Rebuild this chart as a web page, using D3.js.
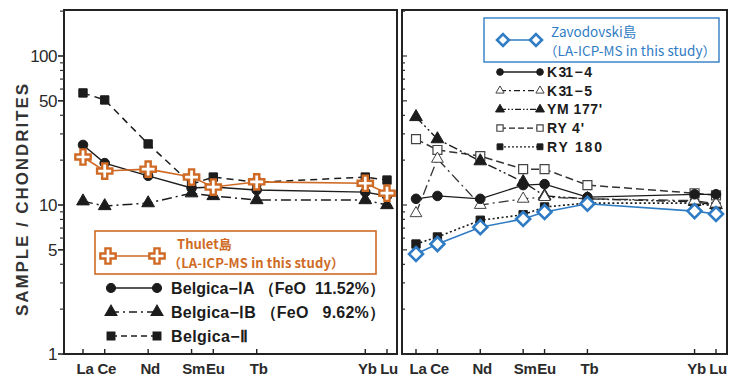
<!DOCTYPE html>
<html>
<head>
<meta charset="utf-8">
<script src="https://cdn.jsdelivr.net/npm/d3@7"></script>
<style>
  body { margin: 0; background: #fff; }
  svg { display: block; }
</style>
</head>
<body>
<svg id="chart" width="738" height="378"></svg>
<script>
//Chart data ----------
const elements = ["La", "Ce", "Nd", "Sm", "Eu", "Tb", "Yb", "Lu"];
const atomicNo = [57, 58, 60, 62, 63, 65, 70, 71];
const yTickValues = [1, 5, 10, 50, 100];

//Left panel (Thulet + Belgica)
const thulet = [21.0, 16.9, 17.4, 15.4, 13.2, 14.3, 14.0, 12.0];
const belgicaIA = [25.3, 19.1, 15.7, 13.0, 13.2, 12.6, 12.2, 11.5];
const belgicaIB = [10.6, 9.85, 10.3, 12.0, 11.5, 10.8, 10.8, 10.0];
const belgicaII = [56.5, 50.7, 25.7, 13.8, 15.4, 14.2, 15.4, 14.7];

//Right panel (Zavodovski + others)
const zavodovski = [4.69, 5.47, 7.1, 8.06, 8.97, 10.2, 9.1, 8.7];
const k31_4 = [11.0, 11.5, 11.0, 13.6, 13.8, 11.3, 11.8, 11.8];
const k31_5 = [8.8, 20.4, 10.0, 11.0, 11.3, 11.0, 10.7, 10.2];
const ym177 = [39.0, 27.7, 19.7, 14.3, 11.5, 11.0, 10.5, 10.0];
const ry4 = [27.7, 23.4, 21.3, 17.4, 17.4, 13.6, 12.0, 11.6];
const ry180 = [5.47, 6.1, 7.9, 8.6, 9.7, 10.3, 10.3, 9.8];

const leftLegend = ["Belgica−ⅠA （FeO  11.52%）", "Belgica−ⅠB （FeO   9.62%）", "Belgica−Ⅱ"];
const rightLegend = ["K 31 − 4", "K 31 − 5", "YM 177'", "RY 4'", "RY 180"];

//Styles ----------
const ORANGE = "#cf6a25";
const BLUE = "#2f7cc4";
const INK = "#1c1c1c";

const svg = d3.select("#chart");

//Scales
const y = d3.scaleLog().domain([1, 100]).range([354, 56]);
const xLeft = d3.scaleLinear().domain([57, 71]).range([83, 387]);
const xRight = d3.scaleLinear().domain([57, 71]).range([416, 716]);

//Symbol path helpers
const sym = (type, size) => d3.symbol().type(type).size(size)();
const diamondPath = "M0,-7L7,0L0,7L-7,0Z";
const markers = {
  circle: { d: sym(d3.symbolCircle, 72), fill: INK, stroke: INK, sw: 1 },
  tri: { d: sym(d3.symbolTriangle, 70), fill: INK, stroke: INK, sw: 1 },
  triOpen: { d: sym(d3.symbolTriangle, 60), fill: "#fff", stroke: "#444", sw: 1 },
  square: { d: sym(d3.symbolSquare, 70), fill: INK, stroke: INK, sw: 1 },
  squareOpen: { d: sym(d3.symbolSquare, 80), fill: "#fff", stroke: "#444", sw: 1.2 },
  plus: { d: sym(d3.symbolCross, 130), fill: "#fff", stroke: ORANGE, sw: 2.4 },
  diamond: { d: diamondPath, fill: "#fff", stroke: BLUE, sw: 2.6 }
};

//Series definitions (drawn back to front)
const leftSeries = [
  { vals: belgicaII, dash: "7,5", color: INK, w: 1.5, mk: "square" },
  { vals: belgicaIB, dash: "10,4,2,4", color: INK, w: 1.5, mk: "tri" },
  { vals: belgicaIA, dash: null, color: INK, w: 1.4, mk: "circle" },
  { vals: thulet, dash: null, color: ORANGE, w: 1.6, mk: "plus" }
];
const rightSeries = [
  { vals: ry180, dash: "2,2.5", color: INK, w: 1.6, mk: "square" },
  { vals: ry4, dash: "8,4", color: "#333", w: 1.5, mk: "squareOpen" },
  { vals: ym177, dash: "9,3,2,3,2,3", color: INK, w: 1.4, mk: "tri" },
  { vals: k31_5, dash: "10,4,2,4", color: "#333", w: 1.3, mk: "triOpen" },
  { vals: k31_4, dash: null, color: INK, w: 1.3, mk: "circle" },
  { vals: zavodovski, dash: null, color: BLUE, w: 1.6, mk: "diamond" }
];

//Frames ----------
function drawFrame(x0, x1) {
  svg.append("rect")
    .attr("x", x0).attr("y", 10)
    .attr("width", x1 - x0).attr("height", 344)
    .attr("fill", "none")
    .attr("stroke", "#222")
    .attr("stroke-width", 2);
}
drawFrame(64, 397);
drawFrame(402, 727);

//Y axis ticks (log minor ticks)
const minorVals = [];
[1, 10, 100].forEach((dec) => {
  for (let k = 2; k <= 9; k++) {
    if (dec * k <= 200 && k !== 5) minorVals.push(dec * k);
  }
});

const leftAxisG = svg.append("g");
leftAxisG.selectAll("line.major")
  .data(yTickValues)
  .join("line")
  .attr("x1", 58).attr("x2", 64)
  .attr("y1", (d) => y(d)).attr("y2", (d) => y(d))
  .attr("stroke", "#222").attr("stroke-width", 1.6);
leftAxisG.selectAll("line.minor")
  .data(minorVals)
  .join("line")
  .attr("x1", 60).attr("x2", 64)
  .attr("y1", (d) => y(d)).attr("y2", (d) => y(d))
  .attr("stroke", "#333").attr("stroke-width", 1.2);
leftAxisG.selectAll("text")
  .data(yTickValues)
  .join("text")
  .attr("x", 57).attr("y", (d) => y(d) + 6)
  .attr("text-anchor", "end")
  .attr("font-family", "Liberation Sans, Arial, sans-serif")
  .attr("font-size", 17)
  .attr("fill", "#2a2a2a")
  .attr("letter-spacing", -0.5)
  .text((d) => d);

//Right panel inner ticks
svg.append("g").selectAll("line")
  .data(yTickValues.concat(minorVals))
  .join("line")
  .attr("x1", 403).attr("x2", (d) => (yTickValues.includes(d) ? 407 : 405))
  .attr("y1", (d) => y(d)).attr("y2", (d) => y(d))
  .attr("stroke", "#333").attr("stroke-width", 1.2);

//Y axis title
svg.append("text")
  .attr("transform", "translate(28,200) rotate(-90)")
  .attr("text-anchor", "middle")
  .attr("font-family", "Liberation Sans, Arial, sans-serif")
  .attr("font-weight", "bold")
  .attr("font-size", 17)
  .attr("fill", "#333")
  .attr("textLength", 232)
  .attr("lengthAdjust", "spacing")
  .text("SAMPLE / CHONDRITES");

//X axes: ticks inside + labels
function drawXAxis(x) {
  const g = svg.append("g");
  g.selectAll("line")
    .data(atomicNo)
    .join("line")
    .attr("x1", (d) => x(d)).attr("x2", (d) => x(d))
    .attr("y1", 354).attr("y2", 349)
    .attr("stroke", "#222").attr("stroke-width", 1.4);
  g.selectAll("text")
    .data(elements)
    .join("text")
    .attr("x", (d, i) => x(atomicNo[i]) + 2)
    .attr("y", 374)
    .attr("text-anchor", "middle")
    .attr("font-family", "Liberation Sans, Arial, sans-serif")
    .attr("font-weight", "bold")
    .attr("font-size", 15)
    .attr("fill", "#2a2a2a")
    .attr("letter-spacing", -0.3)
    .text((d) => d);
}
drawXAxis(xLeft);
drawXAxis(xRight);

//Series ----------
function drawSeries(series, x) {
  series.forEach((s) => {
    const line = d3.line()
      .x((d, i) => x(atomicNo[i]))
      .y((d) => y(d));
    svg.append("path")
      .datum(s.vals)
      .attr("d", line)
      .attr("fill", "none")
      .attr("stroke", s.color)
      .attr("stroke-width", s.w)
      .attr("stroke-dasharray", s.dash);
  });
  series.forEach((s) => {
    const m = markers[s.mk];
    svg.append("g").selectAll("path")
      .data(s.vals)
      .join("path")
      .attr("d", m.d)
      .attr("transform", (d, i) => `translate(${x(atomicNo[i])},${y(d)})`)
      .attr("fill", m.fill)
      .attr("stroke", m.stroke)
      .attr("stroke-width", m.sw);
  });
}
drawSeries(leftSeries, xLeft);
drawSeries(rightSeries, xRight);

//Legend helper: two markers joined by a line
function legendItem(x0, x1, yy, mk, dash, color, w, k) {
  svg.append("line")
    .attr("x1", x0).attr("x2", x1)
    .attr("y1", yy).attr("y2", yy)
    .attr("stroke", color).attr("stroke-width", w)
    .attr("stroke-dasharray", dash);
  const m = markers[mk];
  [x0, x1].forEach((xx) => {
    svg.append("path")
      .attr("d", m.d)
      .attr("transform", `translate(${xx},${yy}) scale(${k})`)
      .attr("fill", m.fill)
      .attr("stroke", m.stroke)
      .attr("stroke-width", m.sw / k);
  });
}

//Left legend ----------
svg.append("rect")
  .attr("x", 95).attr("y", 231)
  .attr("width", 281).attr("height", 43)
  .attr("fill", "#fff")
  .attr("stroke", ORANGE).attr("stroke-width", 1.6);
legendItem(108, 157, 256, "plus", null, ORANGE, 1.4, 1);
svg.append("text")
  .attr("x", 177).attr("y", 249)
  .attr("font-family", "Noto Sans CJK JP, sans-serif")
  .attr("font-weight", "bold")
  .attr("font-size", 13)
  .attr("fill", ORANGE)
  .text("Thulet島");
svg.append("text")
  .attr("x", 168).attr("y", 268)
  .attr("font-family", "Noto Sans CJK JP, sans-serif")
  .attr("font-weight", "bold")
  .attr("font-size", 13)
  .attr("fill", ORANGE)
  .attr("textLength", 176)
  .text("（LA-ICP-MS in this study）");

const leftLegendStyles = [
  { mk: "circle", dash: null },
  { mk: "tri", dash: "8,4,2,4" },
  { mk: "square", dash: "6,4" }
];
const leftLegendWidths = [214, 214, 77];
leftLegend.forEach((label, i) => {
  const yy = 288 + i * 24;
  legendItem(111, 157, yy, leftLegendStyles[i].mk, leftLegendStyles[i].dash, INK, 1.5, 0.95);
  svg.append("text")
    .attr("x", 171).attr("y", yy + 6)
    .attr("font-family", "Liberation Sans, Arial, sans-serif")
    .attr("font-weight", "bold")
    .attr("font-size", 16)
    .attr("fill", INK)
    .attr("textLength", leftLegendWidths[i])
    .attr("lengthAdjust", "spacing")
    .attr("xml:space", "preserve")
    .text(label);
});

//Right legend ----------
svg.append("rect")
  .attr("x", 484).attr("y", 18)
  .attr("width", 235).attr("height", 44)
  .attr("fill", "#fff")
  .attr("stroke", BLUE).attr("stroke-width", 1.4);
legendItem(503, 536, 40, "diamond", null, BLUE, 1.4, 0.85);
svg.append("text")
  .attr("x", 551).attr("y", 37)
  .attr("font-family", "Noto Sans CJK JP, sans-serif")
  .attr("font-size", 13.5)
  .attr("fill", BLUE)
  .text("Zavodovski島");
svg.append("text")
  .attr("x", 544).attr("y", 56)
  .attr("font-family", "Noto Sans CJK JP, sans-serif")
  .attr("font-size", 13.5)
  .attr("fill", BLUE)
  .attr("textLength", 172)
  .text("（LA-ICP-MS in this study）");

const rightLegendStyles = [
  { mk: "circle", dash: null },
  { mk: "triOpen", dash: "6,3,2,3" },
  { mk: "tri", dash: "6,2,1.5,2,1.5,2" },
  { mk: "squareOpen", dash: "6,3" },
  { mk: "square", dash: "2,2" }
];
const rightLegendWidths = [45, 45, 55, 37, 55];
rightLegend.forEach((label, i) => {
  const yy = 72 + i * 18.7;
  legendItem(500, 540, yy, rightLegendStyles[i].mk, rightLegendStyles[i].dash, INK, 1.3, 0.7);
  svg.append("text")
    .attr("x", 547).attr("y", yy + 5)
    .attr("font-family", "Liberation Sans, Arial, sans-serif")
    .attr("font-weight", "bold")
    .attr("font-size", 14)
    .attr("fill", INK)
    .attr("textLength", rightLegendWidths[i])
    .attr("lengthAdjust", "spacing")
    .attr("xml:space", "preserve")
    .text(label);
});
</script>
</body>
</html>
